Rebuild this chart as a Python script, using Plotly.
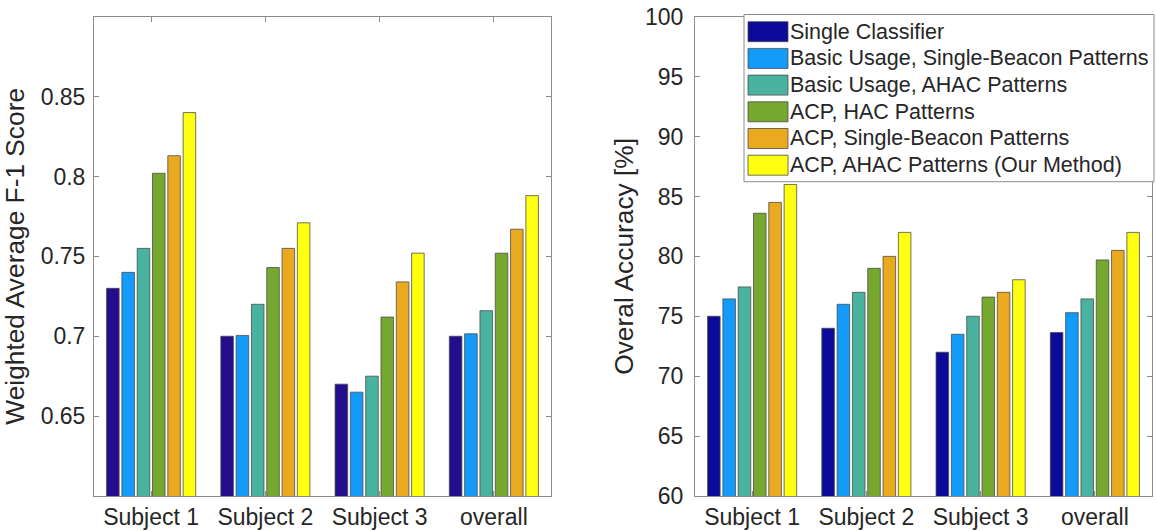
import plotly.graph_objects as go

categories = ["Subject 1", "Subject 2", "Subject 3", "overall"]
series_names = [
    "Single Classifier",
    "Basic Usage, Single-Beacon Patterns",
    "Basic Usage, AHAC Patterns",
    "ACP, HAC Patterns",
    "ACP, Single-Beacon Patterns",
    "ACP, AHAC Patterns (Our Method)",
]
colors_left = ["#250E8E", "#139BF9", "#4AB3A0", "#76A830", "#EAAA1F", "#FFFF10"]
colors_right = ["#0C0A98", "#139BF9", "#4AB3A0", "#76A830", "#EAAA1F", "#FFFF10"]

f1_single = [0.730, 0.700, 0.670, 0.700]
f1_basic_sb = [0.740, 0.7005, 0.665, 0.7015]
f1_basic_ahac = [0.755, 0.720, 0.675, 0.716]
f1_acp_hac = [0.802, 0.743, 0.712, 0.752]
f1_acp_sb = [0.813, 0.755, 0.734, 0.767]
f1_acp_ahac = [0.840, 0.771, 0.752, 0.788]

acc_single = [75.0, 74.0, 72.0, 73.65]
acc_basic_sb = [76.45, 76.0, 73.5, 75.3]
acc_basic_ahac = [77.45, 77.0, 75.0, 76.45]
acc_acp_hac = [83.6, 79.0, 76.6, 79.7]
acc_acp_sb = [84.5, 80.0, 77.0, 80.5]
acc_acp_ahac = [86.0, 82.0, 78.05, 82.0]

f1_ticks = [0.65, 0.7, 0.75, 0.8, 0.85]
f1_ticktext = ["0.65", "0.7", "0.75", "0.8", "0.85"]
acc_ticks = [60, 65, 70, 75, 80, 85, 90, 95, 100]

f1_series = [f1_single, f1_basic_sb, f1_basic_ahac, f1_acp_hac, f1_acp_sb, f1_acp_ahac]
acc_series = [acc_single, acc_basic_sb, acc_basic_ahac, acc_acp_hac, acc_acp_sb, acc_acp_ahac]

W, H = 1156, 531
FONT = "Liberation Sans, Arial, sans-serif"
TXT = "#262626"
AX = "#8c8c8c"
EDGE = "rgba(70,70,70,0.75)"

fig = go.Figure()
for i, name in enumerate(series_names):
    fig.add_trace(go.Bar(x=categories, y=f1_series[i], name=name, xaxis="x", yaxis="y",
                         marker=dict(color=colors_left[i], line=dict(color=EDGE, width=1)),
                         showlegend=False))
for i, name in enumerate(series_names):
    fig.add_trace(go.Bar(x=categories, y=acc_series[i], name=name, xaxis="x2", yaxis="y2",
                         marker=dict(color=colors_right[i], line=dict(color=EDGE, width=1)),
                         showlegend=False))

def px(x):
    return x / W

def py(y):
    return 1 - y / H

axis_common = dict(showline=True, linecolor=AX, linewidth=1, mirror="ticks",
                   ticks="inside", ticklen=5, tickcolor=AX, showgrid=False, zeroline=False,
                   automargin=False,
                   tickfont=dict(family=FONT, size=23, color=TXT))

fig.update_layout(
    template="none",
    width=W, height=H,
    margin=dict(l=0, r=0, t=0, b=0, pad=0),
    paper_bgcolor="white", plot_bgcolor="white",
    barmode="group", bargap=0.196, bargroupgap=0.18,
    showlegend=False,
    xaxis=dict(domain=[px(94), px(551)], anchor="y", **axis_common),
    yaxis=dict(domain=[py(496), py(16.7)], anchor="x", range=[0.6, 0.9],
               tickvals=f1_ticks, ticktext=f1_ticktext, ticklabelstandoff=3,
               title=dict(text="Weighted Average F-1 Score", font=dict(family=FONT, size=26.3, color=TXT), standoff=8),
               **axis_common),
    xaxis2=dict(domain=[px(695), px(1152)], anchor="y2", **axis_common),
    yaxis2=dict(domain=[py(496), py(16.7)], anchor="x2", range=[60, 100],
                tickvals=acc_ticks, ticklabelstandoff=6,
                title=dict(text="Overal Accuracy [%]", font=dict(family=FONT, size=26.3, color=TXT), standoff=3),
                **axis_common),
)

# Legend box (MATLAB-style) drawn in paper coordinates
shapes = [dict(type="rect", xref="paper", yref="paper", x0=px(744), x1=px(1154), y0=py(181.7), y1=py(14.5),
               line=dict(color=AX, width=1), fillcolor="white", layer="above")]
annotations = []
row_h = 26.7
for i, name in enumerate(series_names):
    cy = 31.7 + row_h * i
    shapes.append(dict(type="rect", xref="paper", yref="paper", x0=px(748), x1=px(788),
                       y0=py(cy + 10), y1=py(cy - 10), line=dict(color=EDGE, width=1),
                       fillcolor=colors_right[i], layer="above"))
    annotations.append(dict(xref="paper", yref="paper", x=px(788), y=py(cy), text=name,
                            showarrow=False, xanchor="left", yanchor="middle",
                            font=dict(family=FONT, size=21.5, color=TXT)))
fig.update_layout(shapes=shapes, annotations=annotations)

fig.write_html("out.html", config={"displayModeBar": False},
               post_script="document.body.style.margin='0';document.body.style.overflow='hidden';")
